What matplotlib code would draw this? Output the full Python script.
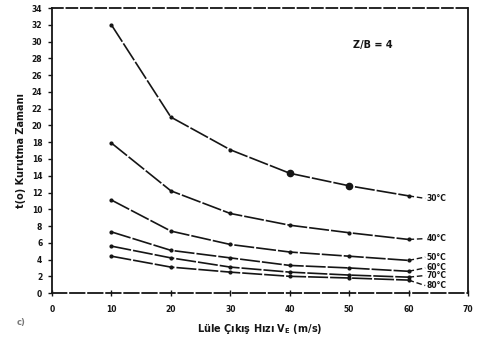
import matplotlib
matplotlib.use('Agg')
import matplotlib.pyplot as plt

# nozzle exit velocity (m/s)
hiz = [10, 20, 30, 40, 50, 60]

# drying time curves, top to bottom
t_30 = [32.0, 21.0, 17.1, 14.3, 12.8, 11.6]
t_40 = [17.9, 12.2, 9.5, 8.1, 7.2, 6.4]
t_50 = [11.1, 7.4, 5.8, 4.9, 4.4, 3.9]
t_60 = [7.3, 5.1, 4.2, 3.3, 3.0, 2.6]
t_70 = [5.6, 4.2, 3.1, 2.5, 2.15, 1.9]
t_80 = [4.4, 3.1, 2.5, 2.0, 1.8, 1.55]

seriler = [t_30, t_40, t_50, t_60, t_70, t_80]
etiketler = ['30°C', '40°C', '50°C', '60°C', '70°C', '80°C']
etiket_y = [11.3, 6.5, 4.3, 3.0, 2.1, 0.9]

renk = '#151515'
plt.rcParams['font.family'] = ['DejaVu Sans']
plt.rcParams['font.weight'] = 'bold'

fig = plt.figure(figsize=(4.79, 3.40), dpi=100)
ax = fig.add_axes([0.1086, 0.138, 0.8684, 0.838])

for i, y in enumerate(seriler):
    ax.plot(hiz, y, color=renk, lw=1.2, linestyle=(0, (12, 1.2)),
            marker='o', markersize=2.0)
    # dashed leader out to the label
    ax.plot([hiz[-1], hiz[-1] + 2.8], [y[-1], etiket_y[i]], color=renk,
            lw=1.0, linestyle=(0, (4, 2)))
    ax.text(hiz[-1] + 3.0, etiket_y[i], etiketler[i], fontsize=5.5,
            color=renk, va='center', ha='left', fontweight='bold')

# heavier dots on the top curve
ax.plot(hiz[3:5], t_30[3:5], 'o', color=renk, markersize=4.5)

ax.text(54, 29.6, 'Z/B = 4', fontsize=7, color=renk, ha='center',
        va='center', fontweight='bold')

ax.set_xlim(0, 70)
ax.set_ylim(0, 34)
ax.set_xticks(range(0, 71, 10))
ax.set_yticks(range(0, 35, 2))
ax.tick_params(axis='y', direction='out', length=3, width=1, labelsize=5.5,
               colors=renk, pad=4)
ax.tick_params(axis='x', direction='inout', length=5, width=1, labelsize=5.5,
               colors=renk, pad=6)
for s in ax.spines.values():
    s.set_color(renk)
    s.set_linewidth(1.3)
ax.spines['top'].set_linestyle((0, (6, 2)))
ax.spines['bottom'].set_linestyle((0, (8, 2)))

ax.set_xlabel('Lüle Çıkış Hızı V$_\\mathbf{E}$ (m/s)', fontsize=7,
              color=renk, labelpad=6, fontweight='bold')
ax.set_ylabel('t(o) Kurutma Zamanı', fontsize=7, color=renk, labelpad=4,
              fontweight='bold')

fig.text(0.035, 0.045, 'c)', fontsize=6, color='#777777')

fig.savefig('out.png', dpi=100, facecolor='white')
